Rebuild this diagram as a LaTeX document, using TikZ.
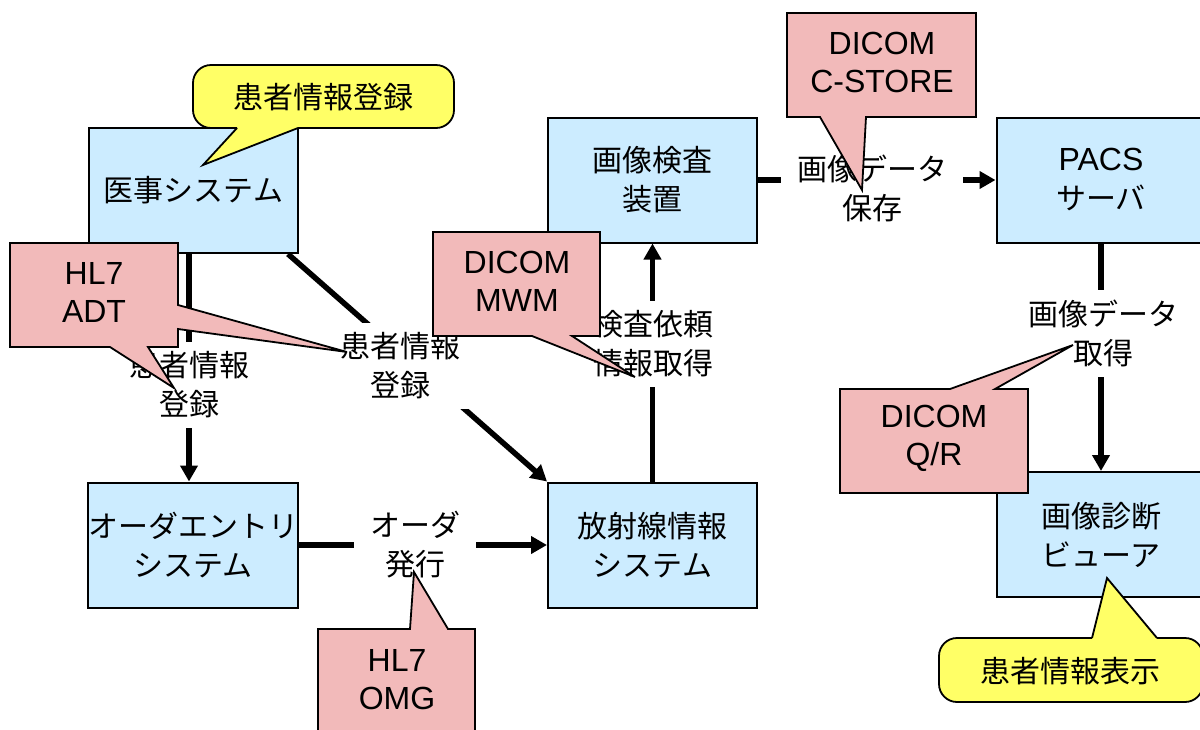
\documentclass[tikz,border=0pt]{standalone}
\usepackage{fontspec}
\setmainfont{Noto Sans CJK JP}
\newfontfamily\lat{Liberation Sans}
\usetikzlibrary{arrows.meta}
\definecolor{boxblue}{RGB}{204,236,255}
\definecolor{notepink}{RGB}{242,186,186}
\definecolor{noteyellow}{RGB}{255,255,102}
\newcommand{\jpsize}{\fontsize{15pt}{19.5pt}\selectfont}
\newcommand{\latsize}{\lat\fontsize{16pt}{19pt}\selectfont}

\begin{document}
\begin{tikzpicture}[x=0.5pt,y=-0.5pt,
  sysbox/.style={draw=black, line width=1pt, fill=boxblue, minimum width=104.5pt,
    minimum height=62.5pt, align=center, inner sep=0pt, font=\jpsize},
  flowlabel/.style={fill=white, inner xsep=8pt, inner ysep=5pt, align=center, font=\jpsize},
  link/.style={line width=2.75pt},
  flow/.style={link, -{Triangle[length=8pt,width=8.5pt]}},
  pinknote/.style={draw=black, line width=0.9pt, fill=notepink, line join=miter},
  yellownote/.style={draw=black, line width=0.9pt, fill=noteyellow},
  notetext/.style={align=center, font=\latsize, inner sep=0pt}
]
\useasboundingbox (0,0) rectangle (1200,729);
\clip (0,0) rectangle (1200,729);

% systems
\node[sysbox] (med)    at (193.5,190.5) {医事システム};
\node[sysbox] (exam)   at (652.5,180)   {画像検査\\装置};
\node[sysbox] (pacs)   at (1101,180)    {{\latsize PACS}\\サーバ};
\node[sysbox] (ord)    at (193,545)     {オーダエントリ\\システム};
\node[sysbox] (rad)    at (652.5,545)   {放射線情報\\システム};
\node[sysbox] (viewer) at (1101,534.5)  {画像診断\\ビューア};

% label positions on the flows
\coordinate (pA) at (189,385);
\coordinate (pB) at (400,366);
\coordinate (pC) at (415,545);
\coordinate (pD) at (653,344);
\coordinate (pE) at (872,188);
\coordinate (pF) at (1103,333);

% flows
\draw[flow] (med.south -| pA) -- (ord.north -| pA);
\draw[flow] ([xshift=-5.5pt]med.south east) -- (rad.north west);
\draw[flow] (ord.east) -- (rad.west);
\draw[flow] (rad.north) -- (exam.south);
\draw[flow] (exam.east) -- (pacs.west);
\draw[flow] (pacs.south) -- (viewer.north);

% flow labels
\node[flowlabel] (lblA) at (pA) {患者情報\\登録};
\node[flowlabel] (lblB) at (pB) {患者情報\\登録};
\node[flowlabel] (lblC) at (pC) {オーダ\\発行};
\node[flowlabel] (lblD) at (pD) {検査依頼\\情報取得};
\node[flowlabel] (lblE) at (pE) {画像データ\\保存};
\node[flowlabel] (lblF) at (pF) {画像データ\\取得};

% yellow notes
\draw[yellownote, rounded corners=9pt] (193,65) rectangle (454,128);
\fill[noteyellow] (237,128) -- (203,165) -- (298,128) -- (296.5,124.5) -- (238.5,124.5) -- cycle;
\draw[line width=0.9pt, line join=miter] (237,128) -- (203,165) -- (298,128);
\node[font=\jpsize, inner sep=0pt] (regnote) at (323.5,97) {患者情報登録};

\draw[yellownote, rounded corners=9pt] (939,638) rectangle (1203,702);
\fill[noteyellow] (1092,638) -- (1107,578) -- (1157,638) -- (1155.5,641.5) -- (1093.5,641.5) -- cycle;
\draw[line width=0.9pt, line join=miter] (1092,638) -- (1107,578) -- (1157,638);
\node[font=\jpsize, inner sep=0pt] (shownote) at (1070,671) {患者情報表示};

% pink notes
\draw[pinknote] (10,243) -- (178,243) -- (178,305) -- (347,352) -- (178,329) -- (178,347)
  -- (148,347) -- (174,388) -- (110,347) -- (10,347) -- cycle;
\node[notetext] (adt) at (94,292) {HL7\\ADT};

\draw[pinknote] (433,232) -- (600,232) -- (600,336) -- (572,336) -- (635,377) -- (532,336)
  -- (433,336) -- cycle;
\node[notetext] (mwm) at (517,281) {DICOM\\MWM};

\draw[pinknote] (787,13) -- (976,13) -- (976,117) -- (866,117) -- (862,190) -- (820,117)
  -- (787,117) -- cycle;
\node[notetext] (store) at (882,62) {DICOM\\C-STORE};

\draw[pinknote] (840,389) -- (950,389) -- (1073,345) -- (995,389) -- (1028,389)
  -- (1028,493) -- (840,493) -- cycle;
\node[notetext] (qr) at (934,438) {DICOM\\Q/R};

\draw[pinknote] (318,629) -- (410,629) -- (414,572) -- (448,629) -- (475,629)
  -- (475,735) -- (318,735) -- cycle;
\node[notetext] (omg) at (397,680) {HL7\\OMG};
\end{tikzpicture}
\end{document}
